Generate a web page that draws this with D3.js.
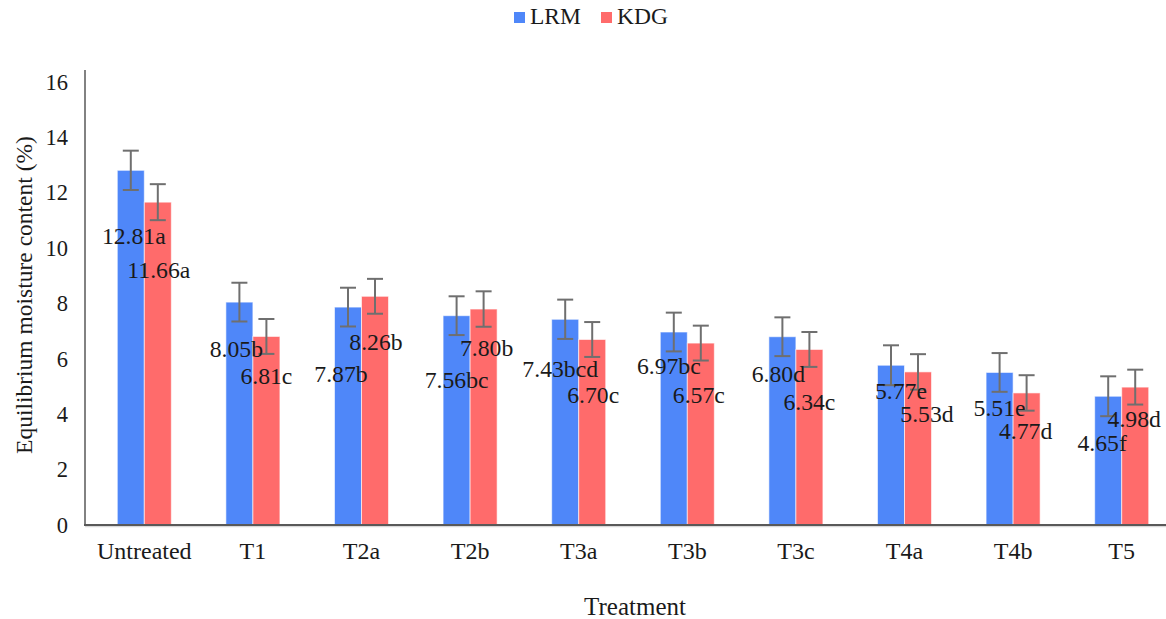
<!DOCTYPE html>
<html>
<head>
<meta charset="utf-8">
<script src="https://cdn.jsdelivr.net/npm/d3@7"></script>
<style>
  html, body { margin: 0; padding: 0; background: #fff; }
  svg text { font-family: 'Liberation Serif', 'Times New Roman', Times, 'DejaVu Serif', serif !important; }
</style>
</head>
<body>
<svg id="chart" width="1166" height="619"></svg>
<script>
// ---- data ----
const categories = ["Untreated", "T1", "T2a", "T2b", "T3a", "T3b", "T3c", "T4a", "T4b", "T5"];
const seriesNames = ["LRM", "KDG"];
const lrmValues = [12.81, 8.05, 7.87, 7.56, 7.43, 6.97, 6.80, 5.77, 5.51, 4.65];
const kdgValues = [11.66, 6.81, 8.26, 7.80, 6.70, 6.57, 6.34, 5.53, 4.77, 4.98];
const lrmErrors = [0.71, 0.70, 0.70, 0.70, 0.71, 0.70, 0.70, 0.72, 0.70, 0.72];
const kdgErrors = [0.65, 0.63, 0.63, 0.64, 0.63, 0.63, 0.63, 0.64, 0.64, 0.63];
const lrmLetters = ["a", "b", "b", "bc", "bcd", "bc", "d", "e", "e", "f"];
const kdgLetters = ["a", "c", "b", "b", "c", "c", "c", "d", "d", "d"];
// label baselines, in y-axis units (where the value labels sit in the figure)
const lrmLabelAt = [10.15, 6.08, 5.18, 4.94, 5.36, 5.44, 5.18, 4.54, 3.94, 2.68];
const kdgLabelAt = [8.91, 5.09, 6.32, 6.10, 4.40, 4.40, 4.15, 3.73, 3.09, 3.55];
const yTicks = [0, 2, 4, 6, 8, 10, 12, 14, 16];
const xTitle = "Treatment";
const yTitle = "Equilibrium moisture content (%)";

// ---- styles / layout ----
const colors = { LRM: "#4f87f9", KDG: "#ff6b6b" };
const axisColor = "#595959";
const errColor = "#6f6f6f";
const textColor = "#1a1a1a";
// horizontal nudges (px) of the value labels, as placed in the figure
const lrmLabelDx = [3, -3, -7, 0, -5, -5, -4, 10, 0, -6];
const kdgLabelDx = [1, 0, 1, 3, 1, -2, 0, 9, -1, -1];

const svg = d3.select("#chart");
const margin = { left: 85, top: 70 };

const x = d3.scaleBand().domain(categories).range([90, 1176]).paddingInner(0).paddingOuter(0);
const xs = d3.scaleBand().domain(seriesNames).range([0, x.bandwidth()]).paddingInner(0).paddingOuter(1.01);
const y = d3.scaleLinear().domain([0, 16]).range([525, 82]);

const rows = categories.map((c, i) => ({
  cat: c,
  items: [
    { s: "LRM", v: lrmValues[i], e: lrmErrors[i], lbl: lrmValues[i].toFixed(2) + lrmLetters[i], at: lrmLabelAt[i], dx: lrmLabelDx[i] },
    { s: "KDG", v: kdgValues[i], e: kdgErrors[i], lbl: kdgValues[i].toFixed(2) + kdgLetters[i], at: kdgLabelAt[i], dx: kdgLabelDx[i] }
  ]
}));

// y axis
const yAxis = d3.axisLeft(y).tickValues(yTicks).tickSize(0).tickPadding(17).tickFormat(d3.format("d"));
const gy = svg.append("g").attr("transform", `translate(${margin.left},0)`).call(yAxis);
gy.select(".domain").remove();
gy.selectAll("text").attr("font-size", 22.5).attr("fill", textColor);
svg.append("line").attr("x1", margin.left).attr("x2", margin.left)
  .attr("y1", margin.top).attr("y2", y(0)).attr("stroke", axisColor).attr("stroke-width", 1.5);

// bars
const groups = svg.append("g").selectAll("g").data(rows).join("g")
  .attr("transform", d => `translate(${x(d.cat)},0)`);
groups.selectAll("rect").data(d => d.items).join("rect")
  .attr("x", d => xs(d.s))
  .attr("width", xs.bandwidth())
  .attr("y", d => y(d.v))
  .attr("height", d => y(0) - y(d.v))
  .attr("fill", d => colors[d.s])
  .attr("stroke", "#ffffff").attr("stroke-opacity", 0.6).attr("stroke-width", 1);

// x axis line
svg.append("line").attr("x1", margin.left).attr("x2", 1166)
  .attr("y1", y(0) + 1.5).attr("y2", y(0) + 1.5).attr("stroke", "#d9d9d9").attr("stroke-width", 1.5);
svg.append("line").attr("x1", margin.left - 1).attr("x2", 1166)
  .attr("y1", y(0)).attr("y2", y(0)).attr("stroke", axisColor).attr("stroke-width", 2);

// error bars
const eb = groups.selectAll("g.err").data(d => d.items).join("g").attr("class", "err")
  .attr("stroke", errColor).attr("stroke-width", 2).attr("fill", "none");
const cx = d => xs(d.s) + xs.bandwidth() / 2;
eb.append("line").attr("x1", cx).attr("x2", cx)
  .attr("y1", d => y(d.v + d.e)).attr("y2", d => y(d.v - d.e));
eb.append("line").attr("x1", d => cx(d) - 8).attr("x2", d => cx(d) + 8)
  .attr("y1", d => y(d.v + d.e)).attr("y2", d => y(d.v + d.e));
eb.append("line").attr("x1", d => cx(d) - 8).attr("x2", d => cx(d) + 8)
  .attr("y1", d => y(d.v - d.e)).attr("y2", d => y(d.v - d.e));

// value labels
groups.selectAll("text.lbl").data(d => d.items).join("text").attr("class", "lbl")
  .attr("x", d => cx(d) + d.dx)
  .attr("y", d => y(d.at))
  .attr("text-anchor", "middle")
  .attr("font-size", 23.7)
  .attr("fill", textColor)
  .text(d => d.lbl);

// x axis category labels
const xAxis = d3.axisBottom(x).tickSize(0).tickPadding(17);
const gx = svg.append("g").attr("transform", `translate(0,${y(0)})`).call(xAxis);
gx.select(".domain").remove();
gx.selectAll("text").attr("font-size", 24).attr("fill", textColor);

// axis titles
svg.append("text").attr("x", 635).attr("y", 615).attr("text-anchor", "middle")
  .attr("font-size", 25).attr("fill", textColor).text(xTitle);
svg.append("text").attr("transform", "translate(32,295) rotate(-90)").attr("text-anchor", "middle")
  .attr("font-size", 23.5).attr("fill", textColor).text(yTitle);

// legend
const li = svg.append("g").selectAll("g").data(seriesNames).join("g")
  .attr("transform", (d, i) => `translate(${514 + i * 87},12)`);
li.append("rect").attr("width", 11).attr("height", 11).attr("fill", d => colors[d]);
li.append("text").attr("x", 16).attr("y", 12).attr("font-size", 23.5).attr("fill", textColor).text(d => d);
</script>
</body>
</html>
